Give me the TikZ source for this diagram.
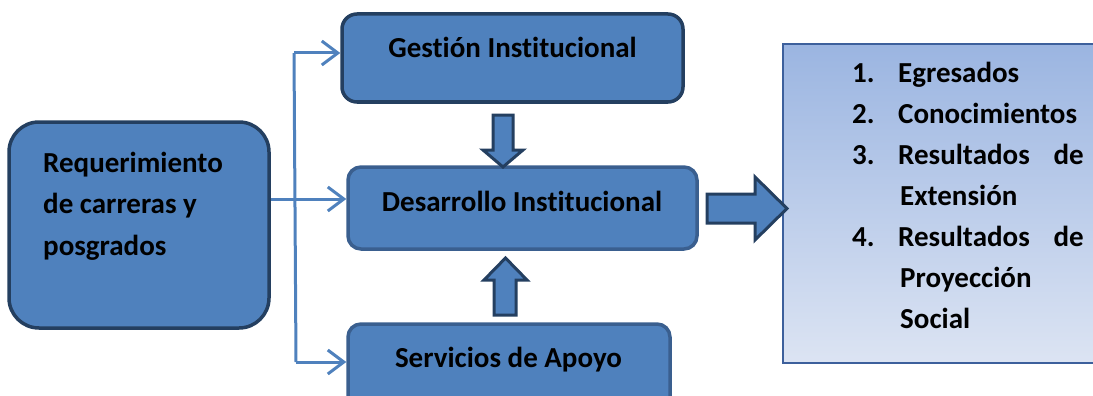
\documentclass[tikz,border=0pt]{standalone}
\usepackage{fontspec}
\setmainfont{Carlito}[Ligatures={NoCommon}]
\usetikzlibrary{calc,arrows.meta}
\definecolor{boxfill}{HTML}{4F81BD}
\definecolor{darkline}{HTML}{243F60}
\definecolor{midline}{HTML}{3A5F8F}
\definecolor{topgrad}{HTML}{9BB5E1}
\definecolor{botgrad}{HTML}{DCE4F3}
\definecolor{rbline}{HTML}{3D609C}
\tikzset{
  box/.style={draw, fill=boxfill, line width=3.5pt, inner sep=0pt},
  txt/.style={font=\fontsize{29}{40}\selectfont\bfseries, text=black, inner sep=0pt, anchor=base},
  txtl/.style={txt, anchor=base west},
  txtr/.style={txt, anchor=base east},
  conn/.style={draw=boxfill, line width=3pt, -{Straight Barb[length=16pt,width=24pt,line width=3pt]}},
  plain/.style={draw=boxfill, line width=3pt},
  blockarrow/.style={fill=boxfill, draw=darkline, line width=3pt, line join=miter},
}
\begin{document}
\begin{tikzpicture}[x=1pt,y=-1pt]
\useasboundingbox (0,0) rectangle (1093,396);
% right box
\node[draw=rbline, line width=2pt, top color=topgrad, bottom color=botgrad, minimum width=340pt, minimum height=319pt, inner sep=0pt] (res) at (953,203.5) {};
% left box
\node[box, draw=darkline, rounded corners=30pt, minimum width=260pt, minimum height=206pt] (req) at (139,225) {};
\node[txtl] (req1) at (43,172) {Requerimiento};
\node[txtl] (req2) at (43,213) {de carreras y};
\node[txtl] (req3) at (43,255) {posgrados};
% gestion
\node[box, draw=darkline, rounded corners=15pt, minimum width=341pt, minimum height=88pt] (gest) at (512.5,58) {};
\node[txt] (gestt) at (512.5,58) {Gestión Institucional};
% desarrollo
\node[box, draw=midline, rounded corners=13pt, minimum width=349pt, minimum height=82pt] (des) at (522.5,208) {};
\node[txt] (dest) at (522,211) {Desarrollo Institucional};
% servicios
\node[box, draw=midline, rounded corners=13pt, minimum width=322pt, minimum height=90pt] (serv) at (509,369) {};
\node[txt] (servt) at (508.5,367) {Servicios de Apoyo};
% connectors
\coordinate (vtop) at (294,53);
\coordinate (vbot) at (296,362);
\draw[plain] (vbot) -- (vtop);
\draw[conn] (vtop) -- (gest.west |- vtop);
\draw[conn] (vbot) -- (serv.west |- vbot);
\draw[conn] (req.east |- 0,199) -- (des.west |- 0,199);
% block arrows
\draw[blockarrow] (493,115) -- (513,115) -- (513,150) -- (523,150) -- (503,167) -- (483,150) -- (493,150) -- cycle;
\draw[blockarrow] (494,315) -- (516,315) -- (516,280) -- (527,280) -- (505.5,258) -- (484,280) -- (494,280) -- cycle;
\draw[blockarrow] (707,194) -- (755,194) -- (755,177) -- (787,208.5) -- (755,240) -- (755,223) -- (707,223) -- cycle;
% list
\node[txtl] (n1) at (852,82) {1.};
\node[txtl] (i1) at (898,82) {Egresados};
\node[txtl] (n2) at (852,123) {2.};
\node[txtl] (i2) at (898,123) {Conocimientos};
\node[txtl] (n3) at (852,164) {3.};
\node[txtl] (i3) at (898,164) {Resultados};
\node[txtr] (d3) at (1084,164) {de};
\node[txtl] (i3b) at (900,205) {Extensión};
\node[txtl] (n4) at (852,246) {4.};
\node[txtl] (i4) at (898,246) {Resultados};
\node[txtr] (d4) at (1084,246) {de};
\node[txtl] (i4b) at (900,287) {Proyección};
\node[txtl] (i4c) at (900,328) {Social};
\end{tikzpicture}
\end{document}
